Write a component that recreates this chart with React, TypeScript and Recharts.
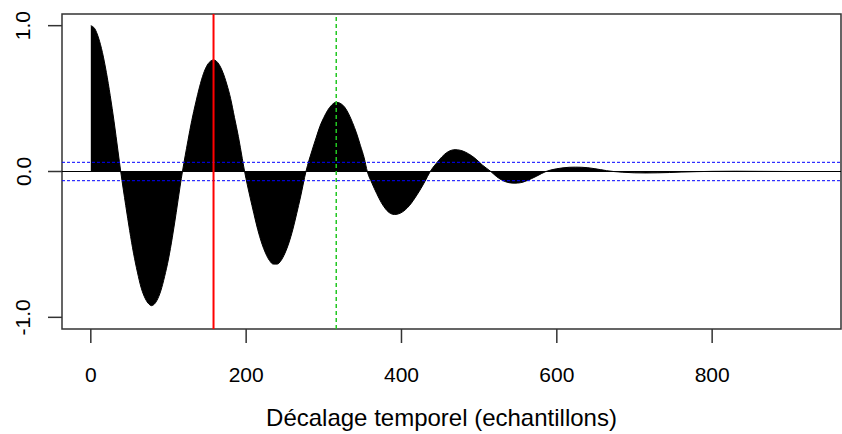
import { ComposedChart, Area, XAxis, YAxis, ReferenceLine, ReferenceArea } from 'recharts'

// autocorrelation, read at irregular lags (denser around peaks and zero crossings)
const lags = [
  0, 5, 10, 15, 20, 25, 30, 35, 38.5,
  45, 50, 55, 60, 65, 70, 75, 78, 85, 90, 95, 100, 105, 110, 115, 118,
  125, 130, 135, 140, 145, 150, 155, 158, 165, 170, 175, 180, 185, 190, 195, 198,
  205, 210, 215, 220, 225, 230, 235, 240, 245, 250, 255, 260, 265, 270, 277,
  285, 290, 295, 300, 305, 310, 316, 322, 327, 332, 337, 342, 347, 352, 356,
  362, 368, 374, 380, 386, 391, 398, 405, 410, 415, 420, 425, 430, 437,
  445, 452, 458, 464, 469, 476, 483, 490, 497, 504, 515,
  522, 528, 534, 540, 546, 553, 560, 567, 574, 580, 586,
  592, 600, 608, 616, 624, 632, 640, 648, 656, 664, 673,
  685, 700, 715, 730, 745, 760, 780, 800, 830, 860, 900, 928,
]

const acf = [
  1.0, 0.98, 0.915, 0.815, 0.68, 0.52, 0.34, 0.14, 0,
  -0.234, -0.405, -0.56, -0.69, -0.8, -0.87, -0.91, -0.92, -0.885, -0.82, -0.72, -0.6, -0.45, -0.28, -0.1, 0,
  0.21, 0.35, 0.47, 0.58, 0.67, 0.73, 0.76, 0.765, 0.735, 0.68, 0.6, 0.5, 0.37, 0.24, 0.09, 0,
  -0.175, -0.29, -0.4, -0.49, -0.56, -0.61, -0.635, -0.635, -0.61, -0.56, -0.49, -0.4, -0.29, -0.175, 0,
  0.147, 0.23, 0.31, 0.37, 0.42, 0.455, 0.475, 0.465, 0.44, 0.395, 0.335, 0.265, 0.18, 0.093, 0,
  -0.08, -0.15, -0.213, -0.26, -0.288, -0.295, -0.287, -0.262, -0.235, -0.2, -0.16, -0.117, -0.07, 0,
  0.057, 0.1, 0.129, 0.145, 0.15, 0.145, 0.131, 0.109, 0.08, 0.045, 0,
  -0.033, -0.055, -0.07, -0.078, -0.08, -0.077, -0.066, -0.05, -0.032, -0.015, 0,
  0.01, 0.019, 0.025, 0.029, 0.03, 0.029, 0.026, 0.02, 0.013, 0.006, 0,
  -0.005, -0.009, -0.01, -0.009, -0.007, -0.004, -0.001, 0.001, 0.002, 0.001, 0, 0,
]

const xTicks = [0, 200, 400, 600, 800]
const yTicks = [-1, 0, 1]
const confBound = 0.063 // 1.96 / sqrt(n)
const periodLag = 158
const doublePeriodLag = 316

const xDomain: [number, number] = [-37.1, 965.9]
const yDomain: [number, number] = [-1.08, 1.08]

const data = lags.map((lag, i) => ({ lag, acf: acf[i] }))

const FONT = '"Liberation Sans", Arial, sans-serif'

// R-style y labels, rotated along the axis
const RotatedTick = (props: any) => {
  const { x, y, payload } = props
  const cx = x - 23
  return (
    <text
      x={cx}
      y={y}
      transform={`rotate(-90 ${cx} ${y})`}
      textAnchor="middle"
      dominantBaseline="central"
      fontSize={21}
      fontFamily={FONT}
      fill="#000"
    >
      {payload.value.toFixed(1)}
    </text>
  )
}

export default function App() {
  return (
    <div style={{ position: 'absolute', left: 0, top: 0, background: '#fff' }}>
      <ComposedChart
        width={842}
        height={434}
        data={data}
        margin={{ top: 14, right: 1, left: 0, bottom: 0 }}
      >
        <XAxis
          dataKey="lag"
          type="number"
          domain={xDomain}
          allowDataOverflow
          ticks={xTicks}
          axisLine={false}
          tickSize={14}
          tickMargin={24}
          tickLine={{ stroke: '#333', strokeWidth: 1.5 }}
          tick={{ fill: '#000', fontSize: 21, fontFamily: FONT }}
          height={105}
          label={{
            value: 'Décalage temporel (echantillons)',
            position: 'insideBottom',
            offset: 8,
            dx: -10,
            fill: '#000',
            fontSize: 24,
            fontFamily: FONT,
          }}
        />
        <YAxis
          type="number"
          domain={yDomain}
          allowDataOverflow
          ticks={yTicks}
          axisLine={false}
          tickSize={14}
          tickLine={{ stroke: '#333', strokeWidth: 1.5 }}
          tick={<RotatedTick />}
          width={62}
        />
        <Area
          dataKey="acf"
          type="monotone"
          baseValue={0}
          stroke="#000"
          strokeWidth={1}
          fill="#000"
          fillOpacity={1}
          isAnimationActive={false}
          dot={false}
          activeDot={false}
        />
        <ReferenceLine y={0} stroke="#000" strokeWidth={1.2} />
        <ReferenceLine y={confBound} stroke="#0000ff" strokeWidth={1} strokeDasharray="3 2" />
        <ReferenceLine y={-confBound} stroke="#0000ff" strokeWidth={1} strokeDasharray="3 2" />
        <ReferenceLine x={periodLag} stroke="#ff0000" strokeWidth={2} />
        <ReferenceLine x={doublePeriodLag} stroke="#22c722" strokeWidth={1.5} strokeDasharray="4 3" />
        <ReferenceArea
          x1={xDomain[0]}
          x2={xDomain[1]}
          y1={yDomain[0]}
          y2={yDomain[1]}
          fill="none"
          stroke="#333"
          strokeWidth={1.5}
          ifOverflow="visible"
        />
      </ComposedChart>
    </div>
  )
}
